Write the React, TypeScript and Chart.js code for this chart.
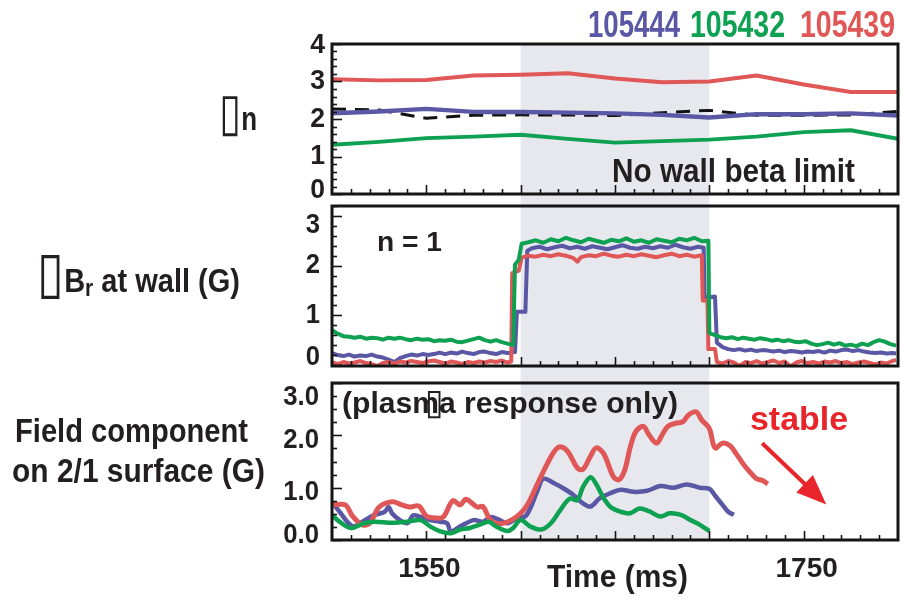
import React, { useEffect, useLayoutEffect, useRef } from 'react';
import { Chart, registerables } from 'chart.js';

Chart.register(...registerables);

// ---------- shared axis ----------
const X_MIN = 1500;
const X_MAX = 1800;
const SHADE_RANGE = [1600, 1700];
const X_MAJOR_TICKS = [1550, 1600, 1650, 1700, 1750];
const X_MINOR_STEP = 10;
const X_TICK_LABELS = [1550, 1750];

const RED = '#e05757';
const GREEN = '#0ea152';
const BLUE = '#5a57a5';
const INK = '#231f20';
const SHADE = '#e7e7ee';

// ---------- panel 1 : beta_n ----------
const P1_T = [1500, 1525, 1550, 1575, 1600, 1625, 1650, 1675, 1700, 1725, 1750, 1775, 1800];
const P1_RED = [3.06, 3.03, 3.04, 3.16, 3.18, 3.22, 3.08, 2.98, 3.0, 3.16, 2.92, 2.72, 2.72];
const P1_GREEN = [1.31, 1.39, 1.49, 1.53, 1.58, 1.47, 1.37, 1.41, 1.45, 1.53, 1.65, 1.7, 1.47];
const P1_BLUE = [2.15, 2.2, 2.27, 2.19, 2.19, 2.17, 2.15, 2.11, 2.04, 2.13, 2.13, 2.15, 2.09];
const P1_NOWALL = [2.27, 2.24, 2.02, 2.1, 2.11, 2.11, 2.09, 2.17, 2.23, 2.1, 2.1, 2.11, 2.2];
const P1_YTICKS = [0, 1, 2, 3, 4];
const P1_YLABELS = ['0', '1', '2', '3', '4'];

// ---------- panel 2 : dBr at wall (time, value) ----------
const P2_GREEN: [number, number][] = [
  [1500, 0.7], [1503, 0.63], [1506, 0.58], [1509, 0.57], [1512, 0.55], [1515, 0.57], [1518, 0.53],
  [1521, 0.55], [1524, 0.54], [1527, 0.51], [1530, 0.55], [1533, 0.53], [1536, 0.55], [1539, 0.52],
  [1542, 0.5], [1545, 0.53], [1548, 0.51], [1551, 0.52], [1554, 0.48], [1557, 0.5], [1560, 0.49],
  [1563, 0.51], [1566, 0.47], [1569, 0.46], [1572, 0.49], [1575, 0.52], [1578, 0.55], [1581, 0.5],
  [1584, 0.47], [1587, 0.5], [1590, 0.46], [1593, 0.43], [1596, 0.4], [1597, 2.02], [1599, 2.12],
  [1600.5, 2.44], [1604, 2.47], [1608, 2.51], [1612, 2.46], [1616, 2.53], [1620, 2.49], [1624, 2.56],
  [1628, 2.51], [1632, 2.47], [1636, 2.54], [1640, 2.5], [1644, 2.46], [1648, 2.52], [1652, 2.49],
  [1656, 2.55], [1660, 2.48], [1664, 2.51], [1668, 2.46], [1672, 2.53], [1676, 2.5], [1680, 2.47],
  [1684, 2.54], [1688, 2.51], [1692, 2.56], [1696, 2.49], [1699.5, 2.5], [1700, 0.64], [1703, 0.6],
  [1706, 0.56], [1709, 0.54], [1712, 0.56], [1715, 0.52], [1718, 0.55], [1721, 0.53], [1724, 0.51],
  [1727, 0.54], [1730, 0.52], [1733, 0.49], [1736, 0.51], [1739, 0.48], [1742, 0.5], [1745, 0.47],
  [1748, 0.46], [1751, 0.48], [1754, 0.43], [1757, 0.4], [1760, 0.42], [1763, 0.45], [1766, 0.41],
  [1769, 0.44], [1772, 0.39], [1775, 0.41], [1778, 0.38], [1781, 0.43], [1784, 0.4], [1787, 0.46],
  [1790, 0.5], [1793, 0.47], [1796, 0.42], [1799, 0.39],
];
const P2_RED: [number, number][] = [
  [1500, 0.05], [1503, 0.02], [1506, 0.06], [1509, 0.03], [1512, 0.05], [1515, 0.08], [1518, 0.04],
  [1521, 0.02], [1524, -0.02], [1527, 0.04], [1530, 0.06], [1533, 0.03], [1536, 0.07], [1539, 0.05],
  [1542, 0.08], [1545, 0.06], [1548, 0.04], [1551, 0.07], [1554, 0.09], [1557, 0.06], [1560, 0.03],
  [1563, 0.07], [1566, 0.05], [1569, 0.02], [1572, 0.06], [1575, 0.04], [1578, 0.07], [1581, 0.05],
  [1584, 0.08], [1587, 0.06], [1590, 0.09], [1593, 0.05], [1595, 0.07], [1595.5, 1.85], [1599, 1.9],
  [1600.5, 2.16], [1604, 2.2], [1608, 2.18], [1612, 2.22], [1616, 2.19], [1620, 2.23], [1624, 2.2],
  [1628, 2.15], [1630, 2.08], [1632, 2.17], [1636, 2.21], [1640, 2.19], [1644, 2.24], [1648, 2.2],
  [1652, 2.18], [1656, 2.22], [1660, 2.19], [1664, 2.23], [1668, 2.2], [1672, 2.17], [1676, 2.21],
  [1680, 2.24], [1684, 2.19], [1688, 2.22], [1692, 2.18], [1696, 2.21], [1696.5, 1.3], [1699, 1.3],
  [1699.5, 0.32], [1703, 0.32], [1704, 0.06], [1707, 0.03], [1710, 0.08], [1713, 0.05], [1716, -0.02],
  [1719, 0.06], [1722, 0.04], [1725, 0.08], [1728, 0.03], [1731, 0.06], [1734, 0.09], [1737, 0.04],
  [1740, 0.07], [1743, -0.03], [1746, 0.05], [1749, 0.08], [1752, 0.04], [1755, 0.06], [1758, 0.03],
  [1761, 0.07], [1764, 0.05], [1767, 0.08], [1770, 0.04], [1773, 0.06], [1776, 0.02], [1779, 0.05],
  [1782, 0.07], [1785, 0.04], [1788, 0.01], [1791, 0.05], [1794, 0.03], [1797, 0.08], [1799, 0.1],
];
const P2_BLUE: [number, number][] = [
  [1500, 0.24], [1503, 0.2], [1506, 0.18], [1509, 0.21], [1512, 0.17], [1515, 0.19], [1518, 0.18],
  [1521, 0.21], [1524, 0.17], [1527, 0.15], [1530, 0.11], [1533, 0.06], [1536, 0.14], [1539, 0.18],
  [1542, 0.21], [1545, 0.19], [1548, 0.22], [1551, 0.2], [1554, 0.22], [1557, 0.25], [1560, 0.22],
  [1563, 0.25], [1566, 0.23], [1569, 0.27], [1572, 0.24], [1575, 0.22], [1578, 0.26], [1581, 0.27],
  [1584, 0.24], [1587, 0.22], [1590, 0.26], [1593, 0.24], [1597, 0.26], [1598, 1.07], [1602.5, 1.07],
  [1603.5, 2.3], [1606, 2.35], [1610, 2.38], [1614, 2.33], [1618, 2.37], [1622, 2.4], [1626, 2.35],
  [1630, 2.38], [1634, 2.34], [1638, 2.39], [1642, 2.36], [1646, 2.33], [1650, 2.37], [1654, 2.41],
  [1658, 2.36], [1662, 2.34], [1666, 2.38], [1670, 2.35], [1674, 2.39], [1678, 2.36], [1682, 2.42],
  [1686, 2.37], [1690, 2.34], [1694, 2.38], [1697, 2.36], [1697.5, 1.35], [1703, 1.38], [1704, 0.45],
  [1707, 0.36], [1710, 0.32], [1713, 0.3], [1716, 0.32], [1719, 0.29], [1722, 0.31], [1725, 0.28],
  [1728, 0.3], [1731, 0.29], [1734, 0.27], [1737, 0.29], [1740, 0.26], [1743, 0.28], [1746, 0.27],
  [1749, 0.25], [1752, 0.27], [1755, 0.26], [1758, 0.28], [1761, 0.25], [1764, 0.29], [1767, 0.27],
  [1770, 0.3], [1773, 0.31], [1776, 0.28], [1779, 0.3], [1782, 0.27], [1785, 0.25], [1788, 0.24],
  [1791, 0.25], [1794, 0.23], [1797, 0.24], [1799, 0.23],
];
const P2_YTICKS = [0, 1, 2, 3];
const P2_YLABELS = ['0', '1', '2', '3'];

// ---------- panel 3 : field on 2/1 surface (time, value) ----------
const P3_GREEN: [number, number][] = [
  [1500, 0.48], [1504, 0.35], [1510, 0.23], [1517, 0.32], [1522, 0.35], [1532, 0.33], [1540, 0.35],
  [1547, 0.38], [1552, 0.26], [1557, 0.17], [1563, 0.13], [1568, 0.2], [1573, 0.23], [1578, 0.29],
  [1583, 0.35], [1587, 0.26], [1593, 0.17], [1596, 0.23], [1600, 0.38], [1605, 0.26], [1611, 0.2],
  [1616, 0.32], [1621, 0.57], [1626, 0.79], [1630, 0.76], [1633, 1.01], [1637, 1.2], [1640, 1.07],
  [1644, 0.8], [1648, 0.62], [1653, 0.54], [1658, 0.51], [1663, 0.6], [1668, 0.55], [1674, 0.45],
  [1679, 0.51], [1685, 0.48], [1690, 0.38], [1695, 0.29], [1700, 0.17],
];
const P3_RED: [number, number][] = [
  [1500, 0.67], [1507, 0.67], [1511, 0.45], [1516, 0.29], [1520, 0.32], [1525, 0.63], [1532, 0.73],
  [1537, 0.67], [1541, 0.63], [1546, 0.65], [1550, 0.46], [1555, 0.42], [1559, 0.44], [1564, 0.75],
  [1568, 0.67], [1571, 0.78], [1577, 0.63], [1580, 0.64], [1584, 0.38], [1589, 0.31], [1595, 0.38],
  [1600, 0.51], [1604, 0.7], [1609, 1.08], [1614, 1.45], [1618, 1.7], [1621, 1.78], [1625, 1.69],
  [1630, 1.38], [1633, 1.35], [1637, 1.6], [1640, 1.76], [1644, 1.65], [1649, 1.22], [1652, 1.15],
  [1655, 1.32], [1658, 1.76], [1661, 2.07], [1665, 2.17], [1668, 2.01], [1672, 1.85], [1675, 2.01],
  [1678, 2.17], [1682, 2.23], [1686, 2.26], [1689, 2.39], [1693, 2.45], [1696, 2.29], [1700, 2.13],
  [1703, 1.76], [1707, 1.85], [1711, 1.8], [1714, 1.66], [1718, 1.45], [1721, 1.32], [1725, 1.17],
  [1728, 1.14], [1731, 1.07],
];
const P3_BLUE: [number, number][] = [
  [1500, 0.73], [1504, 0.54], [1511, 0.26], [1516, 0.35], [1522, 0.47], [1528, 0.54], [1530, 0.63],
  [1532, 0.5], [1536, 0.38], [1540, 0.32], [1543, 0.47], [1547, 0.44], [1552, 0.38], [1557, 0.35],
  [1561, 0.32], [1563, 0.17], [1568, 0.26], [1575, 0.38], [1580, 0.35], [1584, 0.44], [1589, 0.38],
  [1593, 0.32], [1598, 0.41], [1603, 0.47], [1609, 0.95], [1612, 1.17], [1618, 1.08], [1623, 0.98],
  [1628, 0.86], [1633, 0.7], [1637, 0.64], [1642, 0.8], [1648, 0.9], [1653, 0.96], [1660, 0.92],
  [1667, 0.94], [1674, 1.03], [1681, 1.0], [1688, 1.06], [1695, 1.0], [1700, 0.98], [1703, 0.85],
  [1707, 0.67], [1710, 0.54], [1713, 0.48],
];
const P3_YTICKS = [0, 1, 2, 3];
const P3_YLABELS = ['0.0', '1.0', '2.0', '3.0'];
const ARROW_FROM = [1728, 1.85];
const ARROW_TO = [1762, 0.68];

type Cfg = {
  id: string;
  yMin: number;
  yMax: number;
  yTicks: number[];
  yLabels: string[];
  yMinorStep: number;
  labelRightGap: number;
  labelShift: number;
  clampTop: number;
  clampBottom: number;
  labelFont: number;
  labelScale: number;
  shadeFromCanvasTop: boolean;
  shadeToCanvasBottom: boolean;
  xLabels: boolean;
  arrow: boolean;
};

function framePlugin(cfg: Cfg) {
  return {
    id: 'frame_' + cfg.id,
    beforeDatasetsDraw(chart: any) {
      const { ctx, chartArea: a, scales } = chart;
      const x0 = scales.x.getPixelForValue(SHADE_RANGE[0]);
      const x1 = scales.x.getPixelForValue(SHADE_RANGE[1]);
      const top = cfg.shadeFromCanvasTop ? 0 : a.top;
      const bottom = cfg.shadeToCanvasBottom ? chart.height : a.bottom;
      ctx.save();
      ctx.fillStyle = SHADE;
      ctx.fillRect(x0, top, x1 - x0, bottom - top);
      ctx.restore();
    },
    afterDatasetsDraw(chart: any) {
      const { ctx, chartArea: a, scales } = chart;
      const xs = scales.x;
      const ys = scales.y;
      ctx.save();
      ctx.strokeStyle = '#151515';
      ctx.lineWidth = 1.6;
      // y ticks (inward)
      for (let v = cfg.yMin < 0 ? 0 : cfg.yMin; v <= cfg.yMax + 1e-9; v += cfg.yMinorStep) {
        const y = Math.round(ys.getPixelForValue(v)) + 0.5;
        const major = cfg.yTicks.some((t) => Math.abs(t - v) < 1e-6);
        ctx.beginPath();
        ctx.moveTo(a.left, y);
        ctx.lineTo(a.left + (major ? 10 : 5), y);
        ctx.stroke();
      }
      // x ticks (inward)
      for (let t = X_MIN + X_MINOR_STEP; t < X_MAX; t += X_MINOR_STEP) {
        const x = Math.round(xs.getPixelForValue(t)) + 0.5;
        const major = X_MAJOR_TICKS.includes(t);
        ctx.beginPath();
        ctx.moveTo(x, a.bottom);
        ctx.lineTo(x, a.bottom - (major ? 9 : 5));
        ctx.stroke();
      }
      // frame
      ctx.lineWidth = 3;
      ctx.strokeRect(a.left, a.top, a.right - a.left, a.bottom - a.top);
      // y labels
      ctx.fillStyle = INK;
      ctx.font = `bold ${cfg.labelFont}px "Liberation Sans", Arial, sans-serif`;
      ctx.textAlign = 'right';
      ctx.textBaseline = 'middle';
      cfg.yTicks.forEach((v, i) => {
        let y = ys.getPixelForValue(v) + cfg.labelShift;
        y = Math.min(Math.max(y, a.top + cfg.clampTop), a.bottom - cfg.clampBottom);
        const xr = a.left - cfg.labelRightGap;
        ctx.save();
        ctx.translate(xr, y);
        ctx.scale(cfg.labelScale, 1);
        ctx.fillText(cfg.yLabels[i], 0, 0);
        ctx.restore();
      });
      // x labels
      if (cfg.xLabels) {
        ctx.textAlign = 'center';
        ctx.textBaseline = 'alphabetic';
        ctx.font = `bold 28px "Liberation Sans", Arial, sans-serif`;
        X_TICK_LABELS.forEach((t) => {
          ctx.fillText(String(t), xs.getPixelForValue(t) + 3, a.bottom + 37);
        });
      }
      // arrow
      if (cfg.arrow) {
        const fx = xs.getPixelForValue(ARROW_FROM[0]);
        const fy = ys.getPixelForValue(ARROW_FROM[1]);
        const tx = xs.getPixelForValue(ARROW_TO[0]);
        const ty = ys.getPixelForValue(ARROW_TO[1]);
        const dx = tx - fx;
        const dy = ty - fy;
        const len = Math.hypot(dx, dy);
        const ux = dx / len;
        const uy = dy / len;
        const head = 30;
        const half = 12;
        const bx = tx - ux * head;
        const by = ty - uy * head;
        ctx.strokeStyle = '#e8252a';
        ctx.fillStyle = '#e8252a';
        ctx.lineWidth = 4;
        ctx.beginPath();
        ctx.moveTo(fx, fy);
        ctx.lineTo(bx + ux * 4, by + uy * 4);
        ctx.stroke();
        ctx.beginPath();
        ctx.moveTo(tx, ty);
        ctx.lineTo(bx - uy * half, by + ux * half);
        ctx.lineTo(bx + uy * half, by - ux * half);
        ctx.closePath();
        ctx.fill();
      }
      ctx.restore();
    },
  };
}

function ds(data: { x: number; y: number }[], color: string, width: number, tension: number, dash?: number[]) {
  return {
    data,
    borderColor: color,
    borderWidth: width,
    pointRadius: 0,
    fill: false,
    tension,
    borderDash: dash || [],
    borderCapStyle: 'butt',
    borderJoinStyle: 'round',
  };
}

const pairs = (arr: [number, number][]) => arr.map(([x, y]) => ({ x, y }));
const zipT = (vals: number[]) => vals.map((y, i) => ({ x: P1_T[i], y }));

function makeChart(
  canvas: HTMLCanvasElement,
  datasets: any[],
  cfg: Cfg,
  padding: { left: number; right: number; top: number; bottom: number }
) {
  return new Chart(canvas, {
    type: 'line',
    data: { datasets },
    options: {
      responsive: false,
      animation: false,
      devicePixelRatio: 1,
      events: [],
      layout: { padding },
      plugins: { legend: { display: false }, tooltip: { enabled: false } },
      scales: {
        x: { type: 'linear', min: X_MIN, max: X_MAX, display: false },
        y: { type: 'linear', min: cfg.yMin, max: cfg.yMax, display: false },
      },
    },
    plugins: [framePlugin(cfg)],
  } as any);
}

function Label(props: {
  x: number;
  base: number;
  size: number;
  w: number;
  color?: string;
  children: React.ReactNode;
}) {
  const ref = useRef<HTMLDivElement>(null);
  useLayoutEffect(() => {
    const el = ref.current;
    if (!el) return;
    el.style.transform = 'none';
    const nat = el.getBoundingClientRect().width;
    if (nat > 0) el.style.transform = `scaleX(${props.w / nat})`;
  }, [props.w]);
  return (
    <div
      ref={ref}
      style={{
        position: 'absolute',
        left: props.x,
        top: props.base - 0.8465 * props.size,
        fontSize: props.size,
        lineHeight: `${props.size}px`,
        fontFamily: '"Liberation Sans", Arial, sans-serif',
        fontWeight: 700,
        color: props.color || INK,
        whiteSpace: 'nowrap',
        transformOrigin: '0 0',
      }}
    >
      {props.children}
    </div>
  );
}

const Tofu = ({ scale }: { scale: number }) => (
  <span style={{ fontSize: `${scale}em`, fontWeight: 400, lineHeight: 0, fontFamily: '"DejaVu Sans", sans-serif' }}>▯</span>
);

export default function App() {
  const c1 = useRef<HTMLCanvasElement>(null);
  const c2 = useRef<HTMLCanvasElement>(null);
  const c3 = useRef<HTMLCanvasElement>(null);

  useEffect(() => {
    const charts: Chart[] = [];
    charts.push(
      makeChart(
        c1.current!,
        [
          ds(zipT(P1_RED), RED, 4, 0),
          ds(zipT(P1_GREEN), GREEN, 4, 0),
          ds(zipT(P1_BLUE), BLUE, 4.5, 0),
          ds(zipT(P1_NOWALL), '#111111', 3, 0, [14, 9]),
        ],
        {
          id: 'p1', yMin: 0, yMax: 4, yTicks: P1_YTICKS, yLabels: P1_YLABELS, yMinorStep: 0.2,
          labelRightGap: 7, labelShift: 0, clampTop: 1, clampBottom: 4, labelFont: 28, labelScale: 0.95,
          shadeFromCanvasTop: false, shadeToCanvasBottom: true, xLabels: false, arrow: false,
        },
        { left: 332, right: 6, top: 44, bottom: 6 }
      )
    );
    charts.push(
      makeChart(
        c2.current!,
        [
          ds(pairs(P2_GREEN), GREEN, 4, 0),
          ds(pairs(P2_RED), RED, 4, 0),
          ds(pairs(P2_BLUE), BLUE, 4, 0),
        ],
        {
          id: 'p2', yMin: -0.02, yMax: 3.2, yTicks: P2_YTICKS, yLabels: P2_YLABELS, yMinorStep: 0.2,
          labelRightGap: 12, labelShift: 0, clampTop: 20, clampBottom: 8, labelFont: 27, labelScale: 0.95,
          shadeFromCanvasTop: true, shadeToCanvasBottom: true, xLabels: false, arrow: false,
        },
        { left: 332, right: 6, top: 6, bottom: 9 }
      )
    );
    charts.push(
      makeChart(
        c3.current!,
        [
          ds(pairs(P3_GREEN), GREEN, 4.5, 0.35),
          ds(pairs(P3_RED), RED, 5, 0.35),
          ds(pairs(P3_BLUE), BLUE, 4.5, 0.35),
        ],
        {
          id: 'p3', yMin: 0, yMax: 3, yTicks: P3_YTICKS, yLabels: P3_YLABELS, yMinorStep: 0.25,
          labelRightGap: 13, labelShift: 5, clampTop: 14, clampBottom: 5, labelFont: 28, labelScale: 0.92,
          shadeFromCanvasTop: true, shadeToCanvasBottom: false, xLabels: true, arrow: true,
        },
        { left: 332, right: 6, top: 8, bottom: 65 }
      )
    );
    return () => charts.forEach((c) => c.destroy());
  }, []);

  return (
    <div
      style={{
        position: 'absolute',
        left: 0,
        top: 0,
        width: 904,
        height: 605,
        background: '#ffffff',
        overflow: 'hidden',
      }}
    >
      <canvas ref={c1} width={904} height={200} style={{ position: 'absolute', left: 0, top: 0 }} />
      <canvas ref={c2} width={904} height={175} style={{ position: 'absolute', left: 0, top: 200 }} />
      <canvas ref={c3} width={904} height={230} style={{ position: 'absolute', left: 0, top: 375 }} />

      <Label x={588} base={37} size={36} w={92} color={BLUE}>105444</Label>
      <Label x={690} base={37} size={36} w={95} color={GREEN}>105432</Label>
      <Label x={800} base={37} size={36} w={95} color={RED}>105439</Label>

      <Label x={219} base={130} size={34} w={38}><Tofu scale={1.55} />n</Label>
      <Label x={37} base={292} size={34} w={203}>
        <Tofu scale={1.7} />B<span style={{ fontSize: '0.72em', position: 'relative', top: '0.15em' }}>r</span> at wall (G)
      </Label>
      <Label x={15} base={442} size={33} w={233}>Field component</Label>
      <Label x={12} base={482} size={33} w={253}>on 2/1 surface (G)</Label>

      <Label x={612} base={182} size={33} w={243}>No wall beta limit</Label>
      <Label x={377} base={252} size={28} w={65}>n = 1</Label>
      <Label x={342} base={413} size={30} w={336}>(plasma response only)</Label>
      <Label x={425} base={414} size={30} w={19}><Tofu scale={1.2} /></Label>
      <Label x={750} base={430} size={34} w={98} color="#e8252a">stable</Label>
      <Label x={547} base={587} size={31} w={141}>Time (ms)</Label>
    </div>
  );
}
